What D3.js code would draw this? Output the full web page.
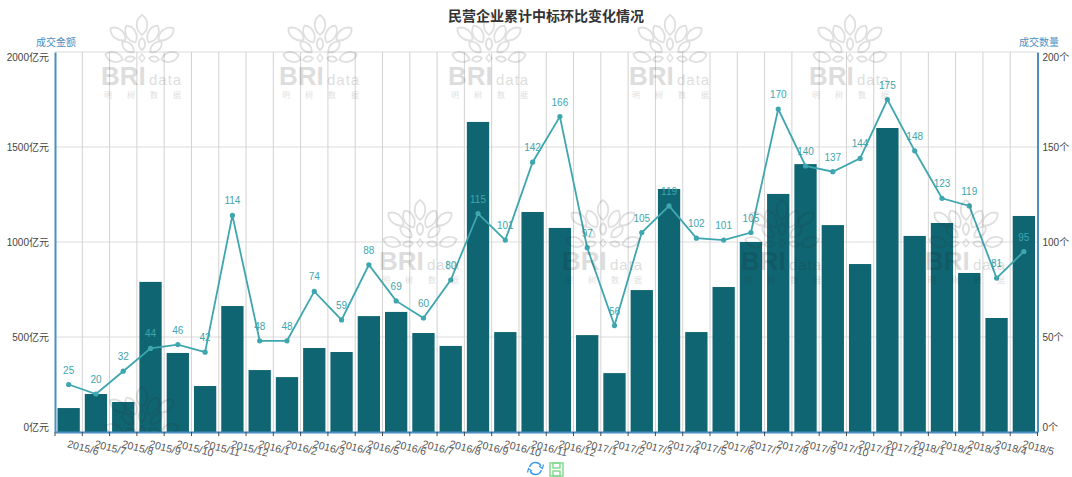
<!DOCTYPE html>
<html>
<head>
<meta charset="utf-8">
<script src="https://cdn.jsdelivr.net/npm/d3@7"></script>
<style>
  html, body { margin: 0; padding: 0; background: #fff; }
  text { font-family: "Liberation Sans", "Noto Sans CJK SC", sans-serif; }
</style>
</head>
<body>
<div id="chart"></div>
<script>
const months = [
  "2015/6", "2015/7", "2015/8", "2015/9", "2015/10", "2015/11", "2015/12",
  "2016/1", "2016/2", "2016/3", "2016/4", "2016/5", "2016/6", "2016/7", "2016/8", "2016/9", "2016/10", "2016/11", "2016/12",
  "2017/1", "2017/2", "2017/3", "2017/4", "2017/5", "2017/6", "2017/7", "2017/8", "2017/9", "2017/10", "2017/11", "2017/12",
  "2018/1", "2018/2", "2018/3", "2018/4", "2018/5",
];
const amounts = [
  126, 200, 158, 790, 416, 242, 663,
  326, 289, 442, 421, 610, 632, 521, 453, 1632, 526, 1158, 1074,
  510, 310, 747, 1279, 526, 763, 1000, 1253, 1410, 1089, 884, 1600,
  1032, 1100, 837, 600, 1137,
];
const counts = [
  25, 20, 32, 44, 46, 42, 114,
  48, 48, 74, 59, 88, 69, 60, 80, 115, 101, 142, 166,
  97, 56, 105, 119, 102, 101, 105, 170, 140, 137, 144, 175,
  148, 123, 119, 81, 95,
];
const amountTicks = [0, 500, 1000, 1500, 2000];
const countTicks = [0, 50, 100, 150, 200];

const fullWidth = 1072,
  fullHeight = 477,
  margin = { top: 52, right: 34.5, bottom: 45, left: 55 },
  width = fullWidth - margin.left - margin.right,
  height = fullHeight - margin.top - margin.bottom;

const lineColor = "#3ea6ae",
  barColor = "#0f6572",
  axisColor = "#4b8fc4";

const root = d3.select("#chart").append("svg")
  .attr("width", fullWidth)
  .attr("height", fullHeight)
  .style("display", "block");

const svg = root.append("g")
  .attr("transform", `translate(${margin.left},${margin.top})`);

const x = d3.scaleBand().domain(months).range([0, width]);
const yLeft = d3.scaleLinear().domain([0, 2000]).range([height, 0]);
const yRight = d3.scaleLinear().domain([0, 200]).range([height, 0]);

root.append("text")
  .attr("x", 546).attr("y", 21)
  .attr("text-anchor", "middle")
  .attr("font-size", 14).attr("font-weight", "bold").attr("fill", "#333")
  .text("民营企业累计中标环比变化情况");

// grid
svg.append("g").selectAll("line").data(amountTicks).enter().append("line")
  .attr("x1", 0).attr("x2", width)
  .attr("y1", (d) => yLeft(d)).attr("y2", (d) => yLeft(d))
  .attr("stroke", "#dcdcdc");
svg.append("g").selectAll("line").data(months.slice(1)).enter().append("line")
  .attr("x1", (d) => x(d)).attr("x2", (d) => x(d))
  .attr("y1", 0).attr("y2", height)
  .attr("stroke", "#d2d2d2");

// bars
svg.append("g").selectAll("rect").data(months).enter().append("rect")
  .attr("x", (d) => x(d) + 2.5)
  .attr("width", x.bandwidth() - 5)
  .attr("y", (d, i) => yLeft(amounts[i]))
  .attr("height", (d, i) => height - yLeft(amounts[i]))
  .attr("fill", barColor);

// line
const line = d3.line()
  .x((d, i) => x(months[i]) + x.bandwidth() / 2)
  .y((d) => yRight(d));
svg.append("path").datum(counts)
  .attr("fill", "none").attr("stroke", lineColor).attr("stroke-width", 1.8)
  .attr("d", line);
svg.append("g").selectAll("circle").data(counts).enter().append("circle")
  .attr("cx", (d, i) => x(months[i]) + x.bandwidth() / 2)
  .attr("cy", (d) => yRight(d))
  .attr("r", 2.6)
  .attr("fill", lineColor);
svg.append("g").selectAll("text").data(counts).enter().append("text")
  .attr("x", (d, i) => x(months[i]) + x.bandwidth() / 2)
  .attr("y", (d) => yRight(d) - 11)
  .attr("text-anchor", "middle")
  .attr("font-size", 10)
  .attr("fill", lineColor)
  .text((d) => d);

// axes
const leftAxis = svg.append("g").attr("class", "axis")
  .call(d3.axisLeft(yLeft).tickValues(amountTicks).tickSize(0).tickPadding(6).tickFormat((d) => d + "亿元"));
const rightAxis = svg.append("g").attr("class", "axis")
  .attr("transform", `translate(${width},0)`)
  .call(d3.axisRight(yRight).tickValues(countTicks).tickSize(0).tickPadding(5).tickFormat((d) => d + "个"));
const bottomAxis = svg.append("g").attr("class", "axis")
  .attr("transform", `translate(0,${height})`)
  .call(d3.axisBottom(x).tickSize(0).tickFormat((d) => d));

svg.selectAll(".axis .domain")
  .attr("stroke", axisColor).attr("stroke-width", 2);

// first and last labels sit inside the plot like the original
[leftAxis, rightAxis].forEach((a) => {
  a.selectAll(".tick text")
    .attr("font-size", 10).attr("fill", "#444")
    .attr("dy", (d) => (d === 0 ? "-0.12em" : d === 2000 || d === 200 ? "0.8em" : "0.32em"));
});

bottomAxis.selectAll(".tick text")
  .attr("font-size", 10.5).attr("fill", "#555")
  .attr("text-anchor", "start")
  .attr("y", 0).attr("dy", 0)
  .attr("transform", "translate(-2,15) rotate(15)");

// bottom axis ticks fall on the band edges
svg.append("g").selectAll("line").data(months.concat("end")).enter().append("line")
  .attr("x1", (d, i) => i * x.step()).attr("x2", (d, i) => i * x.step())
  .attr("y1", height).attr("y2", height + 4)
  .attr("stroke", "#444");

// axis names
root.append("text").attr("x", 36).attr("y", 46)
  .attr("font-size", 10).attr("fill", axisColor).text("成交金额");
root.append("text").attr("x", 1019).attr("y", 46)
  .attr("font-size", 10).attr("fill", axisColor).text("成交数量");

// toolbox icons
const tools = root.append("g");
const refresh = tools.append("g").attr("transform", "translate(535.5,468.5)")
  .attr("fill", "none").attr("stroke", "#3f9bea").attr("stroke-width", 1.5);
refresh.append("path").attr("d", d3.arc()({ innerRadius: 6, outerRadius: 6, startAngle: -1.3, endAngle: 1.1 }));
refresh.append("path").attr("d", d3.arc()({ innerRadius: 6, outerRadius: 6, startAngle: 1.85, endAngle: 4.25 }));
refresh.append("path").attr("d", "M3.5,-2.5L7,0L8,-4").attr("stroke-width", 1.2);
refresh.append("path").attr("d", "M-3.5,2.5L-7,0L-8,4").attr("stroke-width", 1.2);
const save = tools.append("g").attr("transform", "translate(550,463)")
  .attr("fill", "none").attr("stroke", "#7ed88a").attr("stroke-width", 1.4);
save.append("rect").attr("width", 13).attr("height", 13);
save.append("rect").attr("x", 3).attr("width", 7).attr("height", 5);
save.append("rect").attr("x", 3).attr("y", 8).attr("width", 7).attr("height", 5);

// watermark, petals are placed around the flower centre
const petal = "M0,-1C0.7,-0.55 0.7,0.5 0,1C-0.7,0.5 -0.7,-0.55 0,-1Z";
const petals = [
  [0, -33, 0, 10], [-11, -24, -28, 9.5], [11, -24, 28, 9.5],
  [-24, -24, -52, 9.5], [24, -24, 52, 9.5],
  [0, -14, 0, 6], [-14, -11, -48, 7.5], [14, -11, 48, 7.5],
  [-28, -1, -72, 9], [28, -1, 72, 9], [-12, 1, -100, 5], [12, 1, 100, 5],
];
function drawMark(px, py, withText, parent) {
  const g = parent.append("g").attr("transform", `translate(${px},${py})`)
    .attr("opacity", 0.15).attr("pointer-events", "none");
  g.selectAll("path").data(petals).enter().append("path")
    .attr("d", petal)
    .attr("transform", (d) => `translate(${d[0]},${d[1]}) rotate(${d[2]}) scale(${d[3]})`)
    .attr("vector-effect", "non-scaling-stroke")
    .attr("fill", "none").attr("stroke", "#333").attr("stroke-width", 1.8);
  g.append("path").attr("d", "M0,-4L3,0L0,4L-3,0Z")
    .attr("fill", "none").attr("stroke", "#333").attr("stroke-width", 1.3);
  if (!withText) return;
  g.append("text").attr("x", -41).attr("y", 27)
    .attr("font-size", 26).attr("font-weight", "bold").attr("fill", "#222").text("BRI");
  g.append("text").attr("x", 7).attr("y", 27)
    .attr("font-size", 15).attr("letter-spacing", 1).attr("font-family", "Liberation Serif").attr("fill", "#222").text("data");
  g.append("text").attr("x", -38).attr("y", 40)
    .attr("font-size", 8).attr("letter-spacing", 15).attr("fill", "#222").text("明树数据");
}
[[142, 58], [320, 58], [489, 58], [670, 58], [850, 58], [420, 243], [603, 243], [782, 243], [966, 243]]
  .forEach((p) => drawMark(p[0], p[1], true, root));

// bottom row only shows inside the plot
root.append("clipPath").attr("id", "plotClip").append("rect")
  .attr("x", margin.left).attr("y", margin.top).attr("width", width).attr("height", height);
const clipped = root.append("g").attr("clip-path", "url(#plotClip)");
[[142, 430]]
  .forEach((p) => drawMark(p[0], p[1], false, clipped));
</script>
</body>
</html>
